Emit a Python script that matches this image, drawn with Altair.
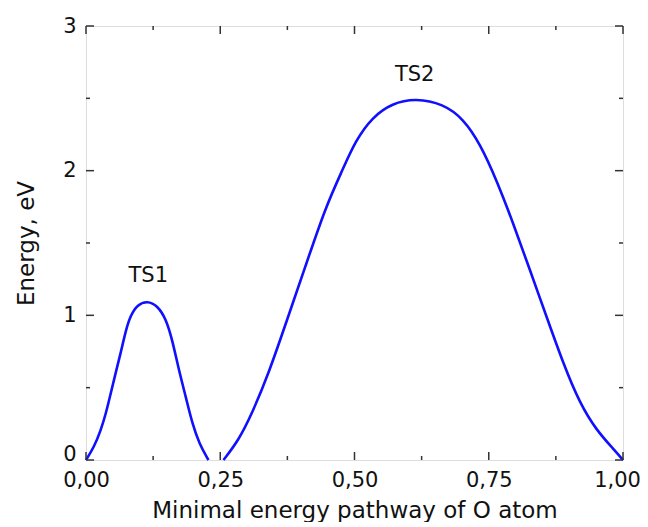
import altair as alt
import pandas as pd

# Curve segments (reaction coordinate, energy in eV)
seg1_x = [0.0, 0.015, 0.027, 0.037, 0.046, 0.055, 0.065, 0.074, 0.083, 0.096, 0.114, 0.133, 0.149,
          0.161, 0.173, 0.186, 0.198, 0.211, 0.228]
seg1_y = [0.0, 0.09, 0.20, 0.32, 0.46, 0.60, 0.745, 0.895, 1.0, 1.075, 1.10, 1.068, 0.976,
          0.826, 0.62, 0.434, 0.25, 0.112, 0.0]
seg2_x = [0.256, 0.284, 0.309, 0.340, 0.374, 0.408, 0.446, 0.477, 0.502, 0.533, 0.570, 0.614,
          0.665, 0.703, 0.734, 0.765, 0.796, 0.827, 0.858, 0.889, 0.920, 0.951, 0.982, 1.0]
seg2_y = [0.0, 0.135, 0.32, 0.596, 0.964, 1.332, 1.747, 2.0, 2.208, 2.369, 2.466, 2.50,
          2.462, 2.358, 2.185, 1.932, 1.632, 1.31, 0.987, 0.665, 0.388, 0.204, 0.077, 0.0]

ts_labels = ["TS1", "TS2"]
ts_x = [0.116, 0.612]
ts_y = [1.23, 2.62]

major_x = [0.0, 0.25, 0.5, 0.75, 1.0]
minor_x = [0.125, 0.375, 0.625, 0.875]
major_y = [0, 1, 2, 3]
minor_y = [0.5, 1.5, 2.5]

W, H = 537, 434
FONT = "DejaVu Sans"
MAJ, MIN = 8, 4
TXT = "#111"

curve = pd.DataFrame({
    "x": seg1_x + seg2_x,
    "y": seg1_y + seg2_y,
    "seg": ["a"] * len(seg1_x) + ["b"] * len(seg2_x),
})
labels = pd.DataFrame({"label": ts_labels, "x": ts_x, "y": ts_y})

xs = alt.Scale(domain=[0, 1], nice=False, zero=False)
ys = alt.Scale(domain=[0, 3], nice=False, zero=False)

ax_x = alt.Axis(
    values=major_x, labelExpr="replace(format(datum.value, '.2f'), '.', ',')",
    title="Minimal energy pathway of O atom", labelFontSize=21, titleFontSize=23,
    labelPadding=9, titlePadding=9, ticks=False, domain=False, grid=False,
    labelFont=FONT, titleFont=FONT, labelColor=TXT, titleColor=TXT,
    labelOffset={"condition": {"test": "datum.value == 1", "value": -6}, "value": 0},
    titleFontWeight="normal", labelFlush=False)
ax_y = alt.Axis(
    values=major_y, format="d", title="Energy, eV", labelFontSize=21, titleFontSize=23,
    labelPadding=10, titlePadding=24, ticks=False, domain=False, grid=False,
    labelFont=FONT, titleFont=FONT, labelColor=TXT, titleColor=TXT,
    labelBaseline={"condition": {"test": "datum.value == 0", "value": "alphabetic"}, "value": "middle"},
    titleFontWeight="normal", labelFlush=False)

X = lambda: alt.X("x:Q", scale=xs, axis=ax_x)
Y = lambda: alt.Y("y:Q", scale=ys, axis=ax_y)

line = alt.Chart(curve).mark_line(color="#1010ff", strokeWidth=2.6, interpolate="basis").encode(
    x=X(), y=Y(), detail="seg:N",
)

text = alt.Chart(labels).mark_text(fontSize=21, font=FONT, color=TXT, baseline="alphabetic").encode(
    x=X(), y=Y(), text="label:N",
)

def xticks(vals, length):
    df = pd.DataFrame({"x": vals})
    base = alt.Chart(df).mark_rule(color="#333", strokeWidth=1.5)
    bottom = base.encode(x=X(), y=alt.value(H), y2=alt.value(H - length))
    top = base.encode(x=X(), y=alt.value(0), y2=alt.value(length))
    return [bottom, top]

def yticks(vals, length):
    df = pd.DataFrame({"y": vals})
    base = alt.Chart(df).mark_rule(color="#333", strokeWidth=1.5)
    left = base.encode(y=Y(), x=alt.value(0), x2=alt.value(length))
    right = base.encode(y=Y(), x=alt.value(W), x2=alt.value(W - length))
    return [left, right]

layers = [line, text] + xticks(major_x, MAJ) + xticks(minor_x, MIN) + yticks(major_y, MAJ) + yticks(minor_y, MIN)

chart = alt.layer(*layers).properties(
    width=W, height=H,
    autosize=alt.AutoSizeParams(type="none"),
    padding={"left": 78, "top": 18, "right": 17, "bottom": 62},
).configure_view(stroke="#333", strokeWidth=1.8).configure(background="white")

chart.save("out.html", embed_options={"renderer": "svg", "actions": False})
